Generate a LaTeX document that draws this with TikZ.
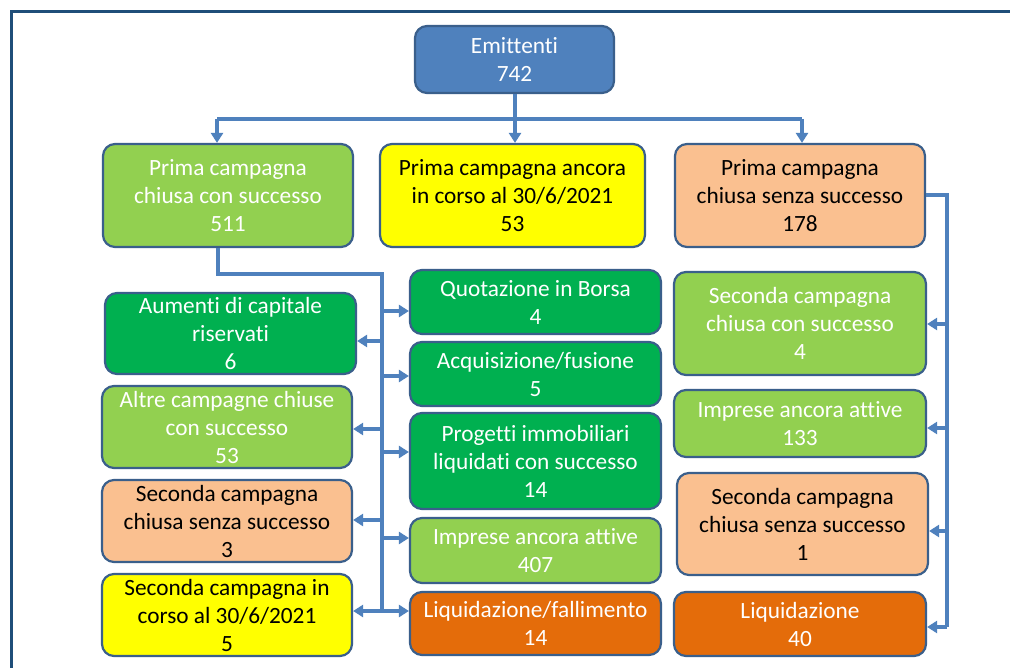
\documentclass[tikz,border=0pt]{standalone}
\usepackage{fontspec}
\setmainfont{Carlito}[Ligatures={NoCommon}]
\usetikzlibrary{arrows.meta}
\definecolor{bord}{HTML}{3A5F8B}
\definecolor{lnc}{HTML}{4F81BD}
\definecolor{blueF}{HTML}{4F81BD}
\definecolor{lg}{HTML}{92D050}
\definecolor{dg}{HTML}{00B050}
\definecolor{yel}{HTML}{FFFF00}
\definecolor{peach}{HTML}{FAC090}
\definecolor{orng}{HTML}{E46C0A}
\definecolor{framec}{HTML}{1F4E79}
\begin{document}
\begin{tikzpicture}[x=1pt,y=-1pt,
  box/.style={draw=bord, line width=2.2pt, rounded corners=12pt, align=center, inner sep=0pt,
    font=\fontsize{23.3}{28}\selectfont},
  wt/.style={text=white},
  bk/.style={text=black},
  conn/.style={draw=lnc, line width=3.5pt},
  arr/.style={draw=lnc, line width=3.5pt, -{Triangle[length=10pt,width=12pt]}}]
\useasboundingbox (0,0) rectangle (1010,668);
\fill[white] (0,0) rectangle (1010,668);
\draw[framec, line width=3pt] (11,668) -- (11,12) -- (1010,12);

% nodes
\node[box, wt, fill=blueF, minimum width=199pt, minimum height=67pt] (E) at (514.5,59.5) {Emittenti\\742};
\node[box, wt, fill=lg, minimum width=250pt, minimum height=103pt] (A) at (228,195.5) {Prima campagna\\chiusa con successo\\511};
\node[box, bk, fill=yel, minimum width=265pt, minimum height=103pt] (B) at (512.5,195.5) {Prima campagna ancora\\in corso al 30/6/2021\\53};
\node[box, bk, fill=peach, minimum width=250pt, minimum height=103pt] (C) at (800,195.5) {Prima campagna\\chiusa senza successo\\178};

\node[box, wt, fill=dg, minimum width=251pt, minimum height=81pt] (Aum) at (230.5,333.5) {Aumenti di capitale\\riservati\\6};
\node[box, wt, fill=lg, minimum width=250pt, minimum height=82pt] (Altre) at (227,427) {Altre campagne chiuse\\con successo\\53};
\node[box, bk, fill=peach, minimum width=250pt, minimum height=82pt] (S3) at (227,521) {Seconda campagna\\chiusa senza successo\\3};
\node[box, bk, fill=yel, minimum width=250pt, minimum height=82pt] (S5) at (227,615) {Seconda campagna in\\corso al 30/6/2021\\5};

\node[box, wt, fill=dg, minimum width=251pt, minimum height=64pt] (Q) at (535.5,302) {Quotazione in Borsa\\4};
\node[box, wt, fill=dg, minimum width=251pt, minimum height=64pt] (Acq) at (535.5,374) {Acquisizione/fusione\\5};
\node[box, wt, fill=dg, minimum width=251pt, minimum height=96pt] (Prog) at (535.5,461) {Progetti immobiliari\\liquidati con successo\\14};
\node[box, wt, fill=lg, minimum width=251pt, minimum height=65pt] (I407) at (535.5,550.5) {Imprese ancora attive\\407};
\node[box, wt, fill=orng, minimum width=251pt, minimum height=63pt] (Liqf) at (535.5,623.5) {Liquidazione/fallimento\\14};

\node[box, wt, fill=lg, minimum width=252pt, minimum height=103pt] (S4) at (800,323.5) {Seconda campagna\\chiusa con successo\\4};
\node[box, wt, fill=lg, minimum width=252pt, minimum height=67pt] (I133) at (800,423.5) {Imprese ancora attive\\133};
\node[box, bk, fill=peach, minimum width=251pt, minimum height=102pt] (S1) at (802.5,524) {Seconda campagna\\chiusa senza successo\\1};
\node[box, wt, fill=orng, minimum width=252pt, minimum height=64pt] (L40) at (800,624) {Liquidazione\\40};

% top connectors
\coordinate (tj) at (515,119);
\coordinate (tl) at (217,119);
\coordinate (tr) at (802,119);
\draw[conn] (tj |- E.south) -- (tj);
\draw[conn] (tl) -- (tr);
\draw[arr] (tl) -- (tl |- A.north);
\draw[arr] (tj) -- (tj |- B.north);
\draw[arr] (tr) -- (tr |- C.north);

% left tree
\coordinate (ls) at (218,274);
\coordinate (lt) at (382,274);
\coordinate (lb) at (382,611);
\draw[conn] (ls |- A.south) -- (ls) -- (lt) -- (lb);
\coordinate (b1) at (382,311);
\coordinate (b2) at (382,341);
\coordinate (b3) at (382,376);
\coordinate (b4) at (382,429);
\coordinate (b5) at (382,452);
\coordinate (b6) at (382,520);
\coordinate (b7) at (382,538);
\draw[arr] (b1) -- (b1 -| Q.west);
\draw[arr] (b2) -- (b2 -| Aum.east);
\draw[arr] (b3) -- (b3 -| Acq.west);
\draw[arr] (b4) -- (b4 -| Altre.east);
\draw[arr] (b5) -- (b5 -| Prog.west);
\draw[arr] (b6) -- (b6 -| S3.east);
\draw[arr] (b7) -- (b7 -| I407.west);
\draw[arr] (lb) -- (lb -| S5.east);
\draw[arr] (lb) -- (lb -| Liqf.west);

% right tree
\coordinate (rt) at (947,195);
\coordinate (rb) at (947,627);
\draw[conn] (C.east |- rt) -- (rt) -- (rb);
\coordinate (r1) at (947,324);
\coordinate (r2) at (947,428);
\coordinate (r3) at (947,531);
\draw[arr] (r1) -- (r1 -| S4.east);
\draw[arr] (r2) -- (r2 -| I133.east);
\draw[arr] (r3) -- (r3 -| S1.east);
\draw[arr] (rb) -- (rb -| L40.east);
\end{tikzpicture}
\end{document}
